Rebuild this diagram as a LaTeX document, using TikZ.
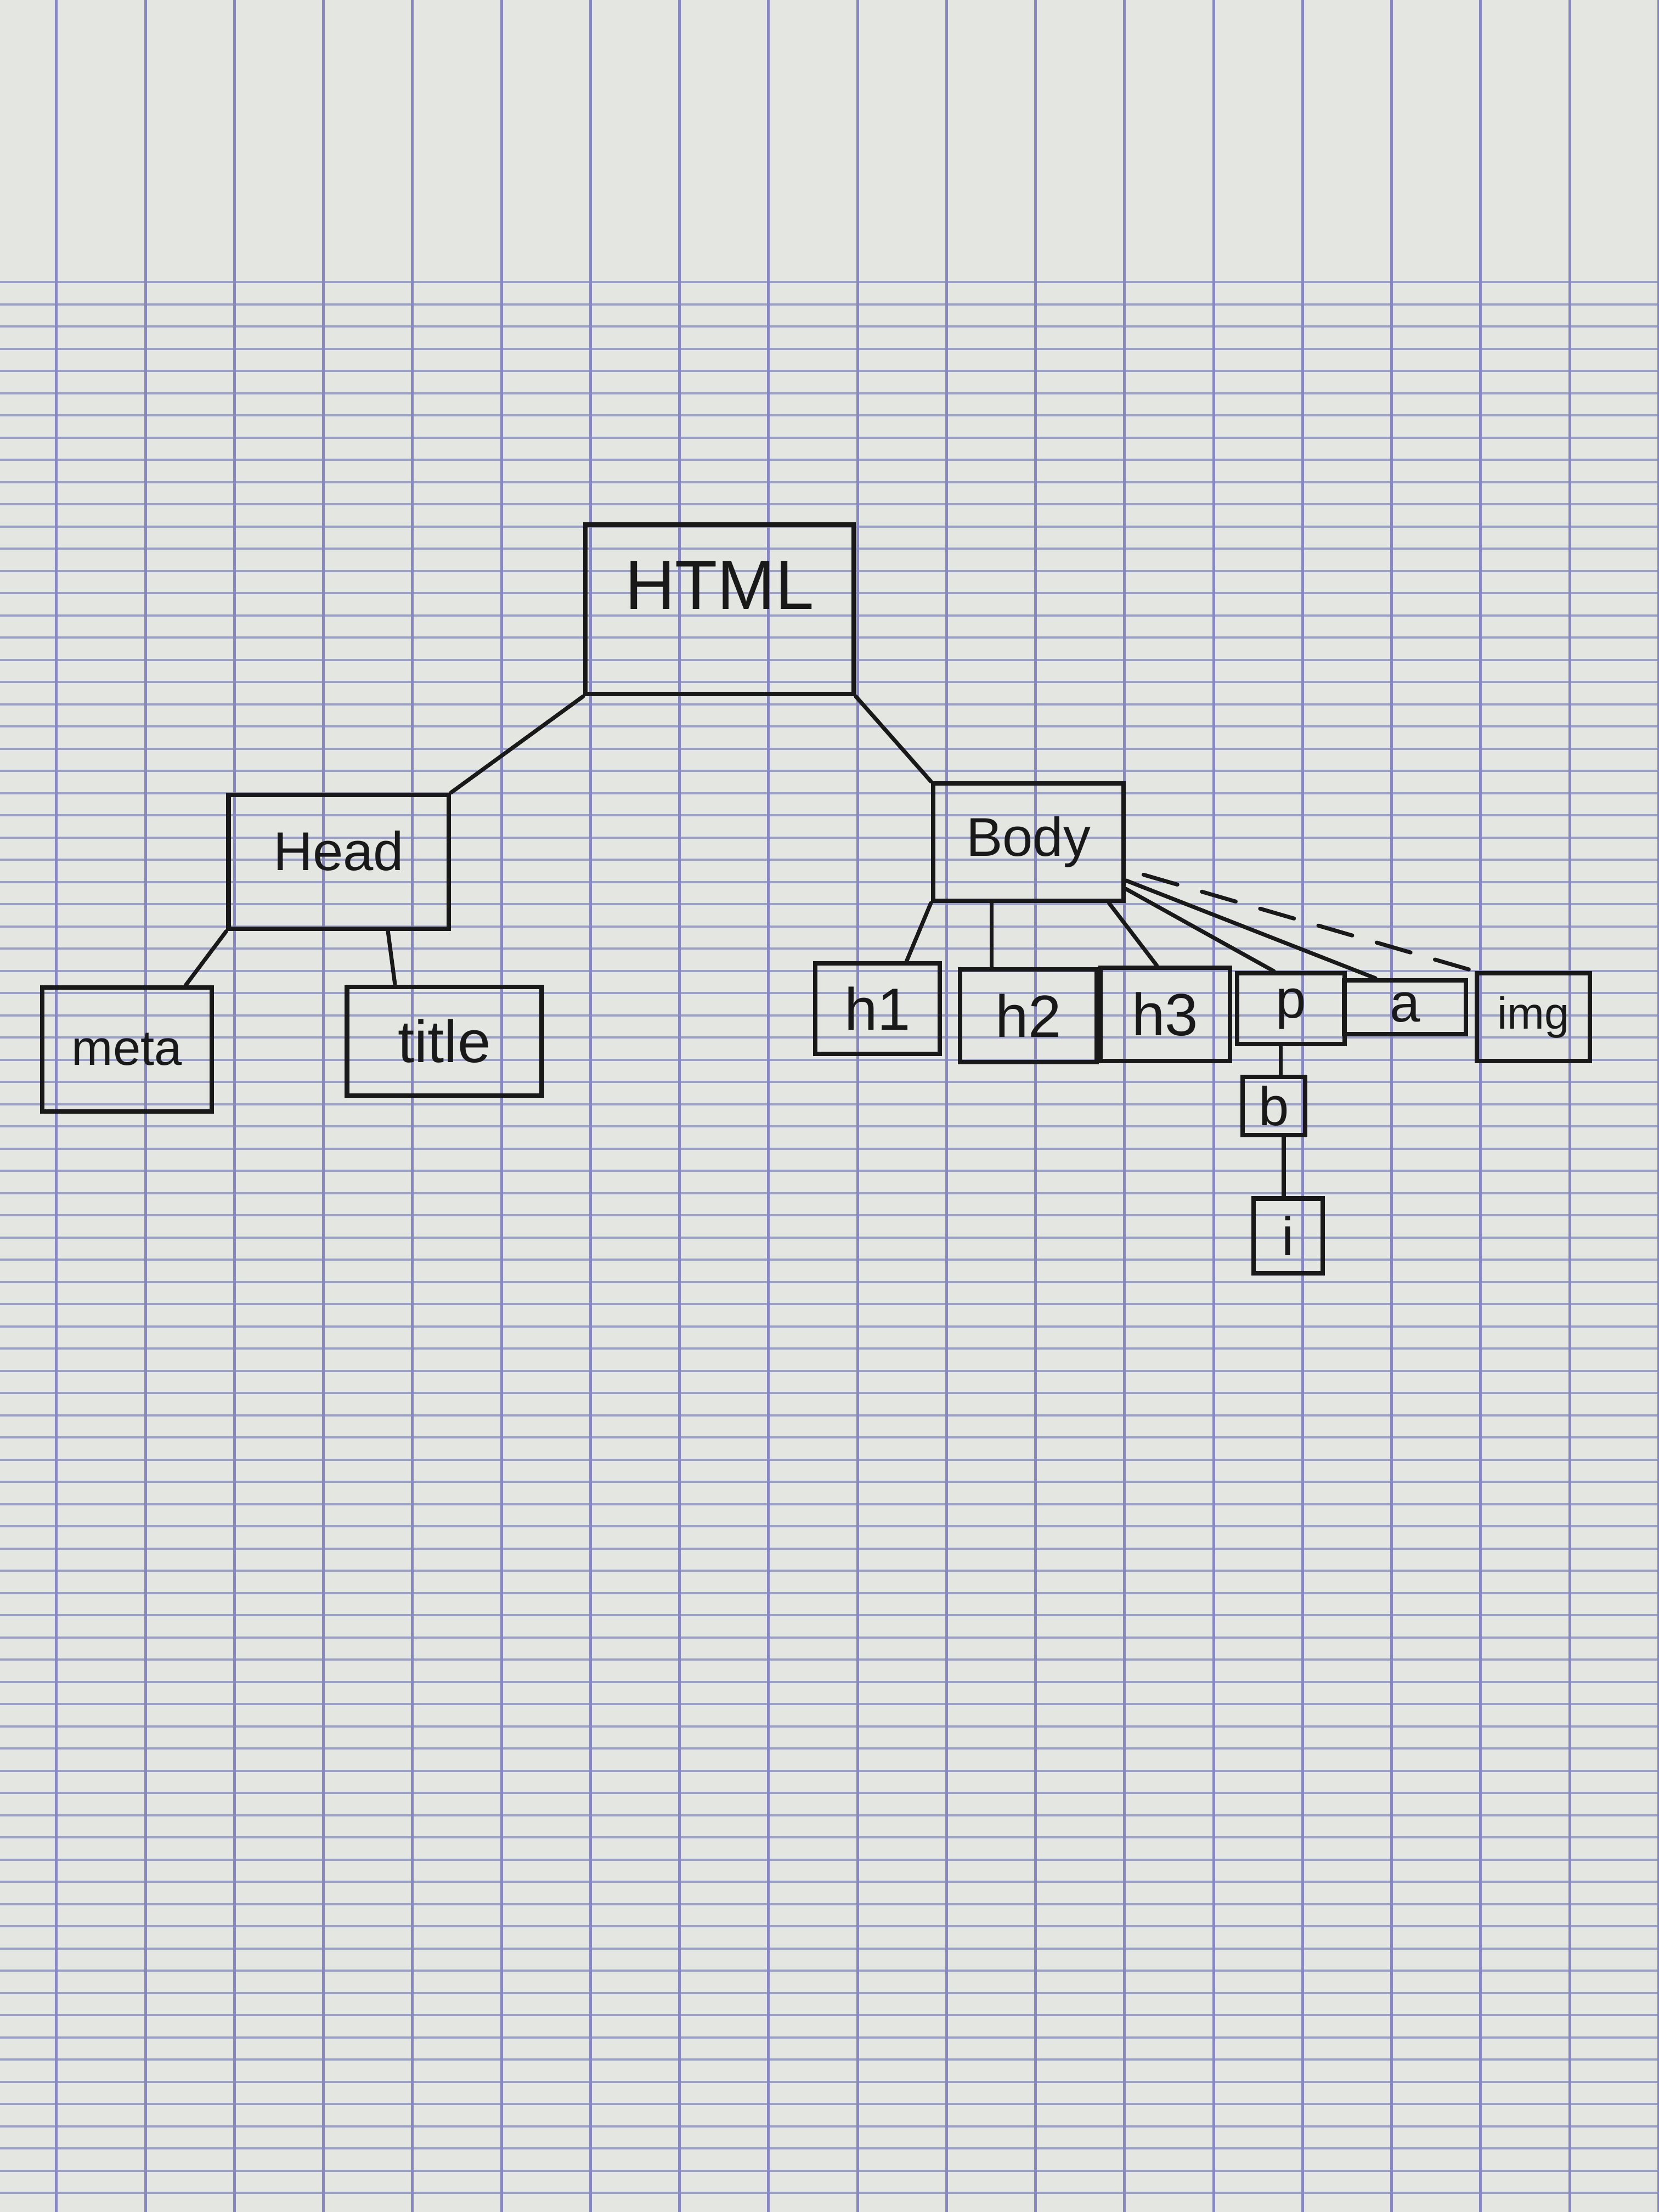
\documentclass[tikz,border=0pt]{standalone}
\usepackage{fontspec}
\setmainfont{Liberation Sans}
\usetikzlibrary{calc}
\definecolor{paper}{RGB}{228,230,226}
\definecolor{vline}{RGB}{135,135,195}
\definecolor{hline}{RGB}{155,160,200}
\definecolor{ink}{RGB}{25,25,25}
\newcommand\hsz[1]{\fontsize{#1}{#1}\selectfont}
\begin{document}
\begin{tikzpicture}[x=0.01cm,y=-0.01cm,
  tag/.style={draw=ink, line width=0.9pt, inner sep=0pt, text=ink, anchor=center},
  link/.style={draw=ink, line width=0.8pt, line cap=round},
  dashlink/.style={link, dash pattern=on 0.25cm off 0.18cm}]
\useasboundingbox (0,0) rectangle (1176,1568);
\fill[paper] (0,0) rectangle (1176,1568);
\foreach \k in {0,...,86} \draw[hline, line width=0.45pt] (0,{200+15.75*\k}) -- (1176,{200+15.75*\k});
\foreach \k in {0,...,18} \draw[vline, line width=0.55pt] ({40+63.1*\k},0) -- ({40+63.1*\k},1568);

% nodes
\node[tag, minimum width=1.90cm, minimum height=1.20cm, text height=0.36cm, text depth=0.36cm, font=\hsz{14}] (html) at (510,432) {HTML};
\node[tag, minimum width=1.56cm, minimum height=0.95cm, text height=0.28cm, text depth=0.16cm, font=\hsz{11}] (head) at (240,611) {Head};
\node[tag, minimum width=1.35cm, minimum height=0.83cm, font=\hsz{11}] (body) at (729,597) {Body};
\node[tag, minimum width=1.20cm, minimum height=0.88cm, font=\hsz{10}] (meta) at (90,744) {meta};
\node[tag, minimum width=1.38cm, minimum height=0.77cm, font=\hsz{12}] (title) at (315,738) {title};
\node[tag, minimum width=0.88cm, minimum height=0.64cm, font=\hsz{12}] (h1) at (622,715) {h1};
\node[tag, minimum width=0.97cm, minimum height=0.66cm, font=\hsz{12}] (h2) at (729,720) {h2};
\node[tag, minimum width=0.92cm, minimum height=0.66cm, font=\hsz{12}] (h3) at (826,719) {h3};
\node[tag, minimum width=0.76cm, minimum height=0.50cm, font=\hsz{11}] (p) at (915,715) {p};
\node[tag, minimum width=0.86cm, minimum height=0.38cm, font=\hsz{11}] (a) at (996,714) {a};
\node[tag, minimum width=0.80cm, minimum height=0.62cm, font=\hsz{9}] (img) at (1087,721) {img};
\node[tag, minimum width=0.44cm, minimum height=0.41cm, font=\hsz{11}] (b) at (903,784) {b};
\node[tag, minimum width=0.49cm, minimum height=0.53cm, font=\hsz{11}] (i) at (913,876) {i};

% connectors
\draw[link] (html.south west) -- (head.north east);
\draw[link] (html.south east) -- (body.north west);
\draw[link] (head.south west) -- ($(meta.north east)+(-20,0)$);
\draw[link] ($(head.south)+(35,0)$) -- ($(title.north)+(-35,0)$);
\draw[link] (body.south west) -- ($(h1.north east)+(-25,0)$);
\draw[link] ($(body.south)+(-26,0)$) -- ($(h2.north)+(-26,0)$);
\draw[link] ($(body.south east)+(-12,0)$) -- ($(h3.north)+(-6,0)$);
\draw[link] ($(body.south east)+(0,-10)$) -- ($(p.north)+(-12,0)$);
\draw[link] ($(body.south east)+(0,-16)$) -- ($(a.north)+(-21,0)$);
\draw[dashlink, shorten <=0.13cm] ($(body.east)!0.45!(body.south east)$) -- (img.north west);
\draw[link] ($(p.south)+(-7,0)$) -- ($(b.north)+(5,0)$);
\draw[link] ($(b.south)+(7,0)$) -- ($(i.north)+(-3,0)$);
\end{tikzpicture}
\end{document}
